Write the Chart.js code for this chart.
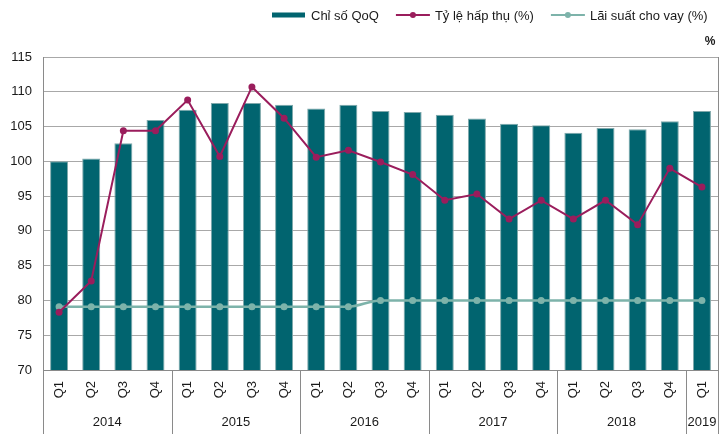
<!DOCTYPE html>
<html>
<head>
<meta charset="utf-8">
<script src="https://cdn.jsdelivr.net/npm/chart.js@4/dist/chart.umd.min.js"></script>
<style>
  html, body { margin: 0; padding: 0; background: #ffffff; }
  #wrap { width: 724px; height: 434px; }
</style>
</head>
<body>
<div id="wrap"><canvas id="c" width="724" height="434"></canvas></div>
<script>
// ---- data ----
const quarters = ['Q1','Q2','Q3','Q4','Q1','Q2','Q3','Q4','Q1','Q2','Q3','Q4','Q1','Q2','Q3','Q4','Q1','Q2','Q3','Q4','Q1'];
const years = ['2014','2015','2016','2017','2018','2019'];
const yearSpans = [4, 4, 4, 4, 4, 1];
const qoqIndex = [100.0, 100.4, 102.6, 105.95, 107.4, 108.4, 108.4, 108.15, 107.6, 108.15, 107.25, 107.1, 106.7, 106.15, 105.4, 105.2, 104.1, 104.8, 104.6, 105.75, 107.25];
const absorptionRate = [78.3, 82.8, 104.4, 104.4, 108.8, 100.7, 110.7, 106.2, 100.6, 101.6, 99.9, 98.1, 94.4, 95.3, 91.7, 94.4, 91.7, 94.4, 90.9, 99.0, 96.3];
const lendingRate = [79.1, 79.1, 79.1, 79.1, 79.1, 79.1, 79.1, 79.1, 79.1, 79.1, 80.0, 80.0, 80.0, 80.0, 80.0, 80.0, 80.0, 80.0, 80.0, 80.0, 80.0];
const seriesNames = ['Chỉ số QoQ', 'Tỷ lệ hấp thụ (%)', 'Lãi suất cho vay (%)'];
const yTicks = [70, 75, 80, 85, 90, 95, 100, 105, 110, 115];
const unitLabel = '%';

const FONT = '"Liberation Sans", Arial, sans-serif';
const C_BAR = '#01646f';
const C_ABS = '#9a1d5c';
const C_LEND = '#7db3aa';
const C_GRID = '#a8a8a8';
const C_AXIS = '#8a8a8a';
const C_TEXT = '#1a1a1a';

const extras = {
  id: 'extras',
  afterDraw(chart) {
    const ctx = chart.ctx;
    const xs = chart.scales.x;
    const area = chart.chartArea;
    const step = xs.getPixelForValue(1) - xs.getPixelForValue(0);
    ctx.save();
    // right border
    ctx.strokeStyle = C_AXIS;
    ctx.lineWidth = 1;
    ctx.beginPath();
    ctx.moveTo(Math.round(area.right) + 0.5, area.top);
    ctx.lineTo(Math.round(area.right) + 0.5, area.bottom);
    ctx.stroke();
    // year separators and labels
    let idx = 0;
    const bounds = [0];
    yearSpans.forEach(s => { idx += s; bounds.push(idx); });
    ctx.beginPath();
    bounds.forEach(b => {
      const x = Math.round(xs.getPixelForValue(b) - step / 2) + 0.5;
      ctx.moveTo(x, area.bottom);
      ctx.lineTo(x, chart.height);
    });
    ctx.stroke();
    ctx.fillStyle = C_TEXT;
    ctx.font = '13px ' + FONT;
    ctx.textAlign = 'center';
    ctx.textBaseline = 'middle';
    years.forEach((y, i) => {
      const a = xs.getPixelForValue(bounds[i]) - step / 2;
      const b = xs.getPixelForValue(bounds[i + 1]) - step / 2;
      ctx.fillText(y, (a + b) / 2, 422);
    });
    // unit label
    ctx.font = 'bold 12px ' + FONT;
    ctx.fillText(unitLabel, 710, 42);
    // legend
    ctx.font = '13px ' + FONT;
    ctx.textAlign = 'left';
    let x = 272;
    const ly = 15;
    const ds = chart.data.datasets;
    ds.forEach((d, i) => {
      if (i === 0) {
        ctx.fillStyle = d.backgroundColor;
        ctx.fillRect(x, ly - 2.5, 33, 5);
      } else {
        ctx.strokeStyle = d.borderColor;
        ctx.lineWidth = 2;
        ctx.beginPath();
        ctx.moveTo(x, ly);
        ctx.lineTo(x + 34, ly);
        ctx.stroke();
        ctx.fillStyle = d.pointBackgroundColor;
        ctx.beginPath();
        ctx.arc(x + 17, ly, 3, 0, Math.PI * 2);
        ctx.fill();
      }
      x += 39;
      ctx.fillStyle = C_TEXT;
      ctx.fillText(d.label, x, ly + 1);
      x += ctx.measureText(d.label).width + 17;
    });
    ctx.restore();
  }
};

new Chart(document.getElementById('c'), {
  type: 'bar',
  data: {
    labels: quarters,
    datasets: [
      {
        type: 'bar',
        label: seriesNames[0],
        data: qoqIndex,
        backgroundColor: C_BAR,
        borderColor: '#7fa8ab',
        borderWidth: 1,
        barPercentage: 0.56,
        categoryPercentage: 1.0,
        order: 3
      },
      {
        type: 'line',
        label: seriesNames[1],
        data: absorptionRate,
        borderColor: C_ABS,
        backgroundColor: C_ABS,
        pointBackgroundColor: C_ABS,
        pointBorderColor: C_ABS,
        pointRadius: 3.5,
        pointBorderWidth: 0,
        borderWidth: 2,
        tension: 0,
        order: 1
      },
      {
        type: 'line',
        label: seriesNames[2],
        data: lendingRate,
        borderColor: C_LEND,
        backgroundColor: C_LEND,
        pointBackgroundColor: C_LEND,
        pointBorderColor: C_LEND,
        pointRadius: 3.5,
        pointBorderWidth: 0,
        borderWidth: 2.5,
        cubicInterpolationMode: 'monotone',
        order: 2
      }
    ]
  },
  options: {
    responsive: false,
    animation: false,
    devicePixelRatio: 1,
    layout: { padding: { top: 57, right: 6, left: 0, bottom: 0 } },
    plugins: {
      legend: { display: false },
      tooltip: { enabled: false },
      title: { display: false }
    },
    scales: {
      x: {
        type: 'category',
        offset: true,
        grid: { display: false, drawTicks: false },
        border: { display: true, color: C_AXIS, width: 1 },
        ticks: {
          autoSkip: false,
          maxRotation: 90,
          minRotation: 90,
          padding: 11,
          color: C_TEXT,
          font: { family: FONT, size: 13 }
        },
        afterFit(s) { s.height = 64; s.paddingLeft = 0; s.paddingRight = 0; }
      },
      y: {
        min: 70,
        max: 115,
        afterBuildTicks(s) { s.ticks = yTicks.map(v => ({ value: v })); },
        grid: { color: C_GRID, lineWidth: 1, drawTicks: false },
        border: { display: true, color: C_AXIS, width: 1 },
        ticks: {
          padding: 11,
          color: C_TEXT,
          font: { family: FONT, size: 13 }
        },
        afterFit(s) { s.width = 43; s.paddingTop = 0; s.paddingBottom = 0; }
      }
    }
  },
  plugins: [extras]
});
</script>
</body>
</html>
